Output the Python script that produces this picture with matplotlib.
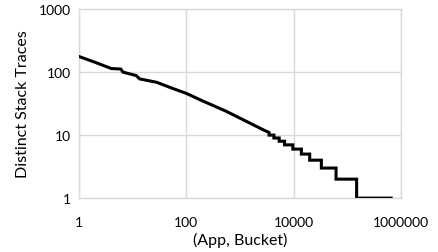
import numpy as np
import matplotlib
matplotlib.use("Agg")
import matplotlib.pyplot as plt

# smooth (dense) part of the rank curve
smooth_rank = [1, 2, 4, 6, 6.6, 11.7, 13.5, 28, 56, 100, 200, 550, 2240, 2800, 3500]
smooth_count = [177, 143, 114, 112, 100, 88, 78, 69, 55, 46, 35, 24, 13.2, 12, 11]
# stepped tail: count holds from step_rank[i] to step_rank[i+1]
step_rank = [3500, 4300, 5400, 6800, 9700, 14000, 20000, 33000, 62000, 150000, 660000]
step_count = [10, 9, 8, 7, 6, 5, 4, 3, 2, 1, 1]

x_ticks = [1, 100, 10000, 1000000]
x_tick_labels = ["1", "100", "10000", "1000000"]
y_ticks = [1, 10, 100, 1000]
y_tick_labels = ["1", "10", "100", "1000"]

plt.rcParams['font.family'] = ['Lato', 'DejaVu Sans']

fig = plt.figure(figsize=(4.39, 2.53), dpi=100)
ax = fig.add_axes([0.180, 0.213, 0.733, 0.747])

# build path
xs = list(smooth_rank)
ys = list(smooth_count)
for i in range(len(step_rank) - 1):
    xs += [step_rank[i], step_rank[i + 1]]
    ys += [step_count[i], step_count[i]]

ax.plot(xs, ys, color='black', lw=2.2, solid_joinstyle='miter', zorder=3)

ax.set_xscale('log')
ax.set_yscale('log')
ax.set_xlim(1, 1e6)
ax.set_ylim(1, 1000)
ax.set_xticks(x_ticks)
ax.set_xticklabels(x_tick_labels)
ax.set_yticks(y_ticks)
ax.set_yticklabels(y_tick_labels)
ax.minorticks_off()
ax.tick_params(length=0, labelsize=10, colors='black')
ax.tick_params(axis='x', pad=13)
ax.tick_params(axis='y', pad=6)
ax.grid(True, color='#d9d9d9', lw=1)
for s in ax.spines.values():
    s.set_color('#d9d9d9')
    s.set_linewidth(1)

ax.set_xlabel("(App, Bucket)", fontsize=11.5, labelpad=3)
ax.set_ylabel("Distinct Stack Traces", fontsize=11.5, labelpad=6)

fig.savefig("out.png", dpi=100)
